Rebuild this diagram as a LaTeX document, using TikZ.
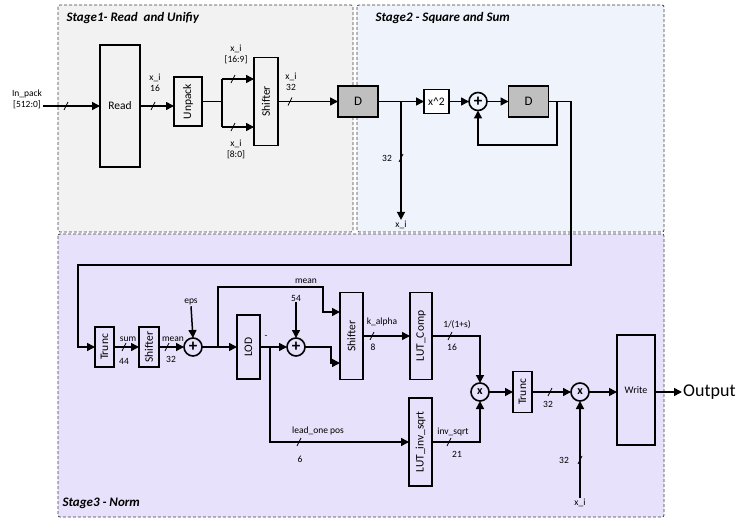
\documentclass[tikz,border=0pt]{standalone}
\usepackage{fontspec}
\setmainfont{Carlito}
\usetikzlibrary{arrows.meta}

\definecolor{stgA}{HTML}{F2F2F2}
\definecolor{stgB}{HTML}{EEF3FC}
\definecolor{stgC}{HTML}{E7E1FB}

\def\ra{101.5}
\def\rb{347}
\def\rc{392}

\begin{document}
\begin{tikzpicture}[x=1pt,y=-1pt,
  reg/.style={draw=black!75,densely dashed,line width=0.8pt,rounded corners=2pt},
  ttl/.style={anchor=west,font=\bfseries\itshape\fontsize{13}{15}\selectfont},
  blk/.style={draw,line width=1.6pt,inner sep=0pt,outer sep=0pt,font=\fontsize{11.5}{13}\selectfont},
  vtx/.style={rotate=90,inner sep=0pt,font=\fontsize{11.5}{13}\selectfont},
  dff/.style={blk,fill=black!25,minimum width=40pt,minimum height=31pt,font=\fontsize{13}{15}\selectfont},
  op/.style={blk,circle,minimum size=18pt},
  lbl/.style={inner sep=1pt,align=center,font=\fontsize{9.5}{11}\selectfont},
  wire/.style={line width=1.5pt},
  arr/.style={wire,-{Triangle[length=8pt,width=8pt]}},
  bus/.style={line width=0.7pt}]

 \useasboundingbox (0,0) rectangle (744,521);

 % Stufen
 \draw[reg,fill=stgA] (58,5) rectangle (353,232);
 \draw[reg,fill=stgB] (357,5) rectangle (664,232);
 \draw[reg,fill=stgC] (58,234) rectangle (664,517);
 \node[ttl] (T1) at (63,18) {Stage1- Read\ \ and Unifiy};
 \node[ttl] (T2) at (372,18) {Stage2 - Square and Sum};
 \node[ttl] (T3) at (59,503) {Stage3 - Norm};

 \node[lbl] (In) at (27,99) {In\_pack\\{[512:0]}};
 \node[blk,minimum width=40pt,minimum height=122pt] (Rd) at (120,106) {Read};
 \node[blk,minimum width=28pt,minimum height=49pt,label={[vtx]center:Unpack}] (Up) at (188,\ra) {};
 \node[blk,minimum width=24pt,minimum height=88pt,label={[vtx]center:Shifter}] (Sh) at (266,\ra) {};
 \node[dff] (Da) at (358,\ra) {D};
 \node[blk,fill=white,minimum width=25pt,minimum height=24pt] (Sq) at (436.5,\ra) {x\^{}2};
 \node[op,font=\bfseries\fontsize{17}{17}\selectfont] (Pa) at (478,\ra) {+};
 \node[dff] (Db) at (528.5,\ra) {D};

 \node[blk,minimum width=19pt,minimum height=40pt,label={[vtx]center:Trunc}] (Tra) at (104.5,\rb) {};
 \node[blk,minimum width=20pt,minimum height=40pt,label={[vtx]center:Shifter}] (Shb) at (149,\rb) {};
 \node[op,font=\bfseries\fontsize{17}{17}\selectfont] (Pb) at (193,\rb) {+};
 \node[blk,minimum width=23pt,minimum height=64pt,label={[vtx]center:LOD}] (LOD) at (248.5,\rb) {};
 \node[op,font=\bfseries\fontsize{17}{17}\selectfont] (Pc) at (296,\rb) {+};
 \node[blk,minimum width=23pt,minimum height=87pt,label={[vtx]center:Shifter}] (Shc) at (351.5,336) {};
 \node[blk,minimum width=22pt,minimum height=87pt,label={[vtx]center:LUT\_Comp}] (LC) at (421,336) {};
 \node[blk,minimum width=23pt,minimum height=88pt,label={[vtx]center:LUT\_inv\_sqrt}] (LI) at (420.5,442) {};
 \node[op,font=\bfseries\fontsize{12}{12}\selectfont] (Ma) at (480,\rc) {x};
 \node[blk,minimum width=19pt,minimum height=41pt,label={[vtx]center:Trunc}] (Trb) at (522.5,\rc) {};
 \node[op,font=\bfseries\fontsize{12}{12}\selectfont] (Mb) at (580,\rc) {x};
 \node[blk,minimum width=38pt,minimum height=110pt,font=\fontsize{10}{12}\selectfont] (Wr) at (636,390) {Write};
 \node[anchor=west,inner sep=1pt,font=\fontsize{18}{20}\selectfont] (Out) at (682,\rc) {Output};

 \node[lbl] (La) at (155,83) {x\_i\\16};
 \node[lbl] (Lb) at (236,54) {x\_i\\{[16:9]}};
 \node[lbl] (Lc) at (236,149) {x\_i\\{[8:0]}};
 \node[lbl] (Ld) at (291,82) {x\_i\\32};
 \node[lbl] (Le) at (387,158) {32};
 \node[lbl] (Xa) at (401,225) {x\_i};
 \node[lbl] (Eps) at (191,302) {eps};
 \node[lbl] (Lf) at (128,339) {sum};
 \node[lbl] (Lg) at (124,361) {44};
 \node[lbl] (Lh) at (173,339) {mean};
 \node[lbl] (Li) at (171,359) {32};
 \node[lbl] (Lj) at (306,281) {mean};
 \node[lbl] (C54) at (296,298) {54};
 \node[lbl] (Lk) at (266,337) {-};
 \node[lbl] (Ll) at (382,322) {k\_alpha};
 \node[lbl] (Lm) at (373,347) {8};
 \node[lbl] (Ln) at (457,325) {1/(1+s)};
 \node[lbl] (Lo) at (452,347) {16};
 \node[lbl] (Lp) at (318,431) {lead\_one pos};
 \node[lbl] (Lq) at (300,459) {6};
 \node[lbl] (Lr) at (453,432) {inv\_sqrt};
 \node[lbl] (Ls) at (457,454) {21};
 \node[lbl] (Lt) at (548,404) {32};
 \node[lbl] (Lu) at (564,460) {32};
 \node[lbl] (Xb) at (580,503) {x\_i};

 \coordinate (Sp) at (222,\ra);
 \coordinate (Ua) at (222,79);
 \coordinate (Ub) at (222,127);
 \coordinate (Bx) at (401,\ra);
 \coordinate (Fa) at (557,\ra);
 \coordinate (Fb) at (557,145);
 \coordinate (Ka) at (571,265);
 \coordinate (Kb) at (78,265);
 \coordinate (Mx) at (218,\rb);
 \coordinate (My) at (323,287);
 \coordinate (Mz) at (323,312);
 \coordinate (Lx) at (270,\rb);
 \coordinate (Qx) at (331,363);

 \draw[arr] (In.east |- Rd) -- (Rd.west);
 \draw[arr] (Rd.east) -- (Rd.east -| Up.west);
 \draw[wire] (Up.east) -- (Sp);
 \draw[wire] (Ua) -- (Ub);
 \draw[arr] (Ua) -- (Ua -| Sh.west);
 \draw[arr] (Ub) -- (Ub -| Sh.west);
 \draw[arr] (Sh.east) -- (Da.west);
 \draw[arr] (Da.east) -- (Sq.west);
 \draw[arr] (Bx) -- (Xa.north);
 \draw[arr] (Sq.east) -- (Pa.west);
 \draw[arr] (Pa.east) -- (Db.west);
 \draw[arr] (Fa) -- (Fb) -| (Pa.south);
 \draw[arr] (Db.east) -| (Ka) -- (Kb) |- (Tra.west);

 \draw[arr] (Tra.east) -- (Shb.west);
 \draw[arr] (Shb.east) -- (Pb.west);
 \draw[arr] (Eps.south) -- (Pb.north);
 \draw[arr] (Pb.east) -- (LOD.west);
 \draw[arr] (Mx) |- (My) -- (Mz) -- (Mz -| Shc.west);
 \draw[arr] (LOD.east) -- (Pc.west);
 \draw[arr] (C54.south) -- (Pc.north);
 \draw[arr] (Lx) |- (LI.west);
 \draw[arr] (Pc.east) -| (Qx) -- (Qx -| Shc.west);
 \draw[arr] (Shc.east) -- (LC.west);
 \draw[arr] (LC.east) -| (Ma.north);
 \draw[arr] (LI.east) -| (Ma.south);
 \draw[arr] (Ma.east) -- (Trb.west);
 \draw[arr] (Trb.east) -- (Mb.west);
 \draw[arr] (Xb.north) -- (Mb.south);
 \draw[arr] (Mb.east) -- (Mb.east -| Wr.west);
 \draw[arr] (Wr.east |- Mb) -- (Out.west);

 \foreach \sx/\sy in {66/106, 153/106, 233/79, 233/127, 290/\ra, 401/158,
                      124/\rb, 167/\rb, 299/442, 372/336, 450/336, 449/442,
                      550/\rc, 580/460}
   \draw[bus] (\sx-2,\sy+4) -- (\sx+2,\sy-4);
\end{tikzpicture}
\end{document}
